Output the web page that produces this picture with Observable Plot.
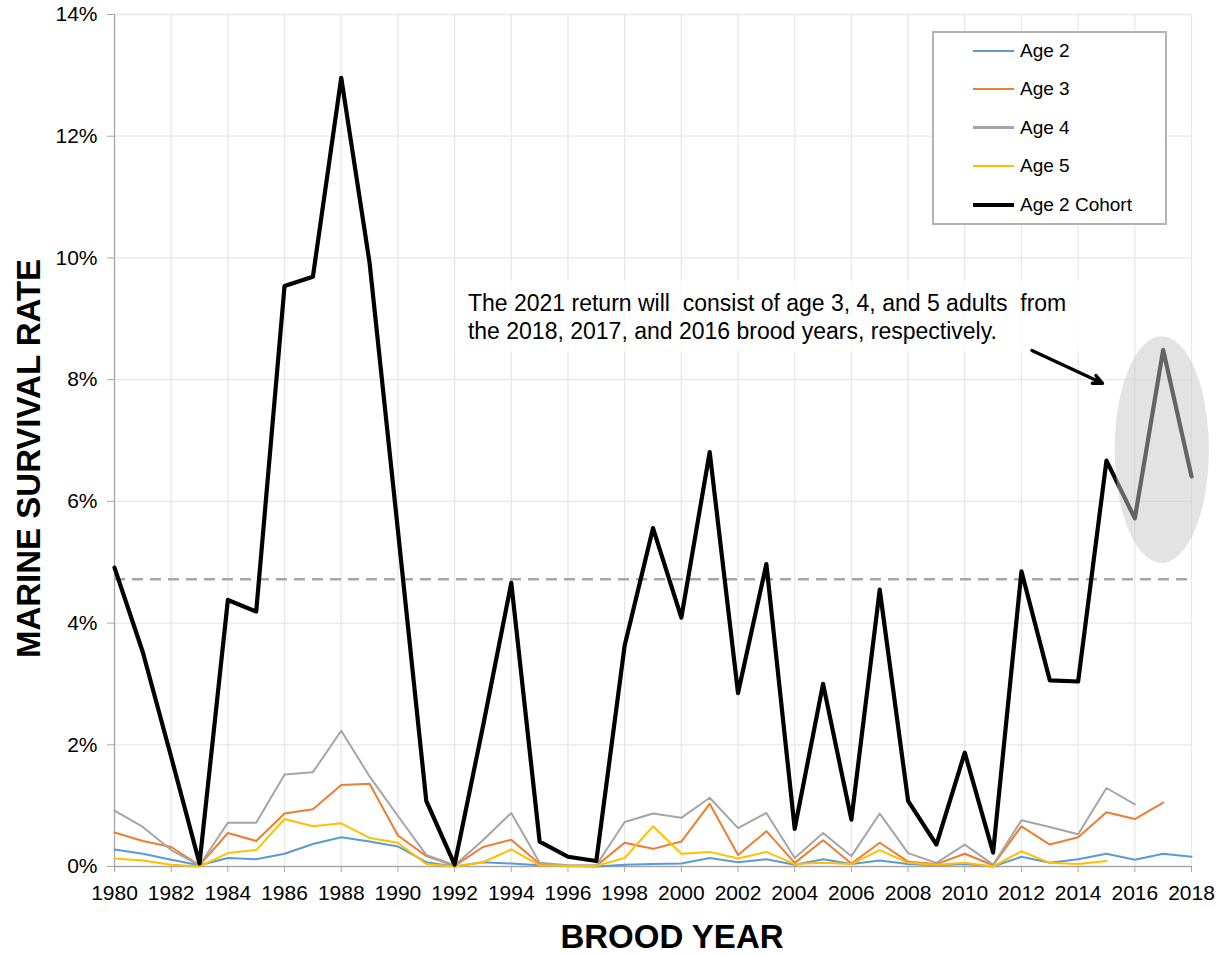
<!DOCTYPE html>
<html>
<head>
<meta charset="utf-8">
<script src="https://cdn.jsdelivr.net/npm/d3@7"></script>
<script src="https://cdn.jsdelivr.net/npm/@observablehq/plot@0.6"></script>
<style>
  body { margin: 0; background: #fff; }
  #wrap { position: relative; width: 1225px; height: 955px; overflow: hidden; }
  #legend {
    position: absolute; left: 932px; top: 31px; width: 231px; height: 190px;
    border: 2px solid #b3b3b3; background: #fff;
    font-family: "Liberation Sans", Arial, sans-serif; font-size: 19px; color: #000;
  }
  .row { position: absolute; left: 0; width: 100%; height: 0; }
  .sw { position: absolute; left: 39px; width: 41px; }
  .lb { position: absolute; left: 86px; top: -11px; line-height: 22px; white-space: nowrap; }
</style>
</head>
<body>
<div id="wrap"></div>
<script>
const FONT = '"Liberation Sans", Arial, Helvetica, sans-serif';

// ---- data ----
const years = d3.range(1980, 2019);
const seriesNames = ["Age 2", "Age 3", "Age 4", "Age 5", "Age 2 Cohort"];
const seriesColors = ["#5B9BD5", "#ED7D31", "#A5A5A5", "#FFC000", "#000000"];

const age2 = [0.28,0.21,0.11,0.02,0.14,0.12,0.21,0.37,0.48,0.41,
              0.33,0.07,0.00,0.07,0.05,0.02,0.01,0.00,0.03,0.04,
              0.05,0.14,0.07,0.12,0.03,0.12,0.04,0.10,0.04,0.02,
              0.04,0.00,0.16,0.06,0.12,0.21,0.11,0.21,0.16];
const age3 = [0.56,0.42,0.32,0.02,0.55,0.42,0.87,0.94,1.34,1.36,
              0.51,0.17,0.01,0.32,0.44,0.04,0.01,0.01,0.39,0.29,
              0.41,1.03,0.19,0.58,0.06,0.43,0.05,0.39,0.08,0.04,
              0.21,0.02,0.66,0.36,0.48,0.89,0.78,1.05];
const age4 = [0.92,0.65,0.27,0.02,0.72,0.72,1.51,1.55,2.23,1.48,
              0.83,0.19,0.02,0.43,0.88,0.06,0.02,0.02,0.73,0.87,
              0.80,1.13,0.63,0.88,0.14,0.55,0.17,0.87,0.22,0.06,
              0.36,0.03,0.76,0.65,0.53,1.29,1.02];
const age5 = [0.13,0.10,0.03,0.00,0.22,0.27,0.78,0.66,0.71,0.47,
              0.39,0.04,0.00,0.07,0.28,0.02,0.01,0.01,0.14,0.66,
              0.21,0.24,0.13,0.24,0.04,0.06,0.04,0.27,0.06,0.03,
              0.06,0.00,0.25,0.06,0.04,0.09];
const cohort = [4.91,3.52,1.80,0.05,4.38,4.19,9.54,9.69,12.96,9.92,
                5.52,1.08,0.03,2.30,4.66,0.41,0.16,0.09,3.63,5.56,
                4.09,6.81,2.85,4.97,0.62,3.00,0.77,4.55,1.08,0.36,
                1.87,0.23,4.85,3.06,3.04,6.67,5.72,8.49,6.41];
const meanLine = 4.72;

const xTicks = d3.range(1980, 2019, 2);
const yTicks = d3.range(0, 15, 2);

const annotationText = "The 2021 return will  consist of age 3, 4, and 5 adults  from\nthe 2018, 2017, and 2016 brood years, respectively.";

// highlight ellipse (center & radii in data units)
const ellipseSpec = { cx: 2016.95, cy: 6.85, rx: 1.66, ry: 1.86 };
const arrowSpec = [{ x1: 2012.37, y1: 8.48, x2: 2014.86, y2: 7.94 }];
const annotBox = [{ x1: 1992.03, x2: 2014.55, y1: 8.45, y2: 9.63 }];

// ---- build table ----
const allSeries = [age2, age3, age4, age5, cohort];
const rows = [];
allSeries.forEach((vals, i) => {
  vals.forEach((v, j) => rows.push({ year: years[j], value: v, series: seriesNames[i] }));
});
const ageRows = rows.filter(d => d.series !== "Age 2 Cohort");
const cohortRows = rows.filter(d => d.series === "Age 2 Cohort");

const ellipsePts = d3.range(0, 120).map(k => {
  const t = (k / 120) * 2 * Math.PI;
  return { x: ellipseSpec.cx + ellipseSpec.rx * Math.cos(t), y: ellipseSpec.cy + ellipseSpec.ry * Math.sin(t) };
});

const chart = Plot.plot({
  width: 1225,
  height: 955,
  marginLeft: 114,
  marginRight: 34,
  marginTop: 14,
  marginBottom: 89,
  style: { fontFamily: FONT, background: "#fff", overflow: "visible", color: "#000" },
  x: { domain: [1980, 2018] },
  y: { domain: [0, 14] },
  color: { domain: seriesNames, range: seriesColors },
  marks: [
    Plot.gridY({ ticks: yTicks.filter(t => t > 0), stroke: "#e8e8e8", strokeOpacity: 1, strokeWidth: 1.3 }),
    Plot.gridX({ ticks: xTicks.filter(t => t > 1980), stroke: "#e8e8e8", strokeOpacity: 1, strokeWidth: 1.3 }),
    Plot.ruleX([1980], { y1: 0, y2: 14, stroke: "#a6a6a6", strokeWidth: 1.3 }),
    Plot.ruleY([0], { x1: 1980, x2: 2018, stroke: "#a6a6a6", strokeWidth: 1.5 }),
    Plot.axisY({ ticks: yTicks, tickFormat: d => d + "%", tickSize: 7, tickPadding: 10, fontSize: 21,
                 stroke: "#a6a6a6", fill: "#000", label: null }),
    Plot.axisX({ ticks: xTicks, tickFormat: d => String(d), tickSize: 6, tickPadding: 13, fontSize: 21,
                 stroke: "#a6a6a6", fill: "#000", label: null }),
    Plot.line(ageRows, { x: "year", y: "value", z: "series", stroke: "series", strokeWidth: 2 }),
    Plot.ruleY([meanLine], { x1: 1980, x2: 2018, stroke: "#a6a6a6", strokeWidth: 2.6, strokeDasharray: "11,7" }),
    Plot.line(cohortRows, { x: "year", y: "value", stroke: "series", strokeWidth: 4.2 }),
    Plot.line(ellipsePts, { x: "x", y: "y", fill: "#c8c8c8", fillOpacity: 0.5, stroke: "none", curve: "linear-closed" }),
    Plot.rect(annotBox, { x1: "x1", x2: "x2", y1: "y1", y2: "y2", fill: "#ffffff", fillOpacity: 0.75 }),
    Plot.text([annotationText], { x: () => 1992.47, y: () => 9.045, text: d => d, textAnchor: "start",
               lineAnchor: "middle", lineHeight: 1.2, fontSize: 23, fill: "#000" }),
    Plot.arrow(arrowSpec, { x1: "x1", y1: "y1", x2: "x2", y2: "y2", stroke: "#000", strokeWidth: 3.4,
               headLength: 4.5, headAngle: 50 }),
    Plot.text(["BROOD YEAR"], { frameAnchor: "bottom", dx: 19, dy: 71, lineAnchor: "middle",
               fontSize: 33, fontWeight: "bold", fill: "#000" }),
    Plot.text(["MARINE SURVIVAL RATE"], { frameAnchor: "left", dx: -85, dy: 18, rotate: -90,
               textAnchor: "middle", lineAnchor: "middle", fontSize: 33, fontWeight: "bold", fill: "#000" })
  ]
});

const wrap = document.getElementById("wrap");
wrap.appendChild(chart);

// ---- legend ----
const legend = document.createElement("div");
legend.id = "legend";
const rowTops = [17.7, 56, 94.5, 133, 172];
seriesNames.forEach((name, i) => {
  const r = document.createElement("div");
  r.className = "row";
  r.style.top = rowTops[i] + "px";
  const sw = document.createElement("div");
  sw.className = "sw";
  const h = i === 4 ? 4.5 : 2.2;
  sw.style.height = h + "px";
  sw.style.top = (-h / 2) + "px";
  sw.style.background = seriesColors[i];
  const lb = document.createElement("div");
  lb.className = "lb";
  lb.textContent = name;
  r.appendChild(sw);
  r.appendChild(lb);
  legend.appendChild(r);
});
wrap.appendChild(legend);
</script>
</body>
</html>
